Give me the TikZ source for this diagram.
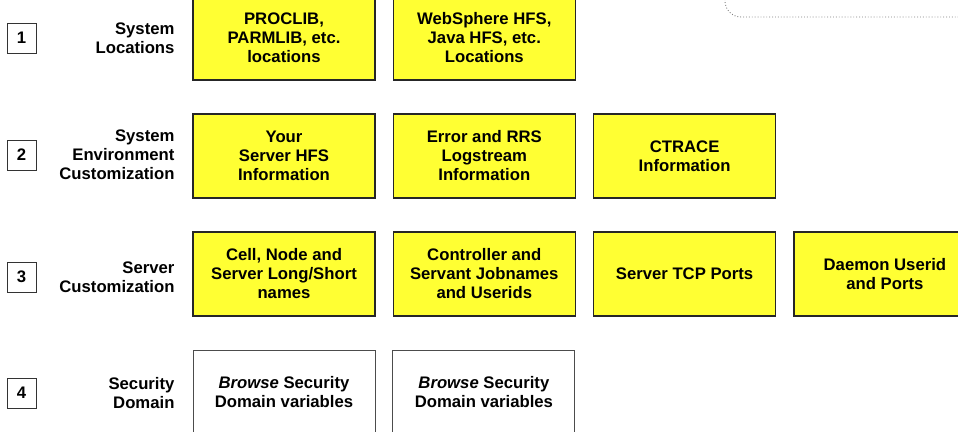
\documentclass[tikz,border=0pt]{standalone}
\usepackage{fontspec}
\setmainfont{Liberation Sans}
\usetikzlibrary{positioning}
\definecolor{boxyellow}{RGB}{255,255,51}
\newcommand{\boxfont}{\bfseries\fontsize{16.7}{19}\selectfont}
\tikzset{node distance=17pt, % Gap between two boxes of a row
yellowbox/.style={ % Sets the properties for each filled box
draw=black!85,
line width=1.3pt,
fill=boxyellow,
minimum width=182pt,
minimum height=84pt,
inner sep=0pt,
align=center,
font=\boxfont},
plainbox/.style={ % Unfilled security boxes
yellowbox,
fill=white,
draw=black!70,
line width=0.9pt},
numbox/.style={ % Step numbers on the left
draw=black!80,
line width=0.9pt,
minimum width=29pt,
minimum height=30pt,
inner sep=0pt,
font=\boxfont},
rowlabel/.style={align=right, anchor=east, font=\boxfont}}

\begin{document}
\begin{tikzpicture}[x=1pt,y=-1pt]
\useasboundingbox (0,0) rectangle (958,431);
\clip (0,0) rectangle (958,431);
\draw[black!50, dotted, line width=0.9pt, rounded corners=16pt] (725,-40) rectangle (1000,17);
% row 1
\node[numbox] (n1) at (21.5,38) {1};
\node[rowlabel] (l1) at (178,38) {System\\Locations};
\node[yellowbox] (proclib) at (284,38) {PROCLIB,\\PARMLIB, etc.\\locations};
\node[yellowbox, right=of proclib] (websphere) {WebSphere HFS,\\Java HFS, etc.\\Locations};
% row 2
\node[numbox] (n2) at (21.5,155) {2};
\node[rowlabel] (l2) at (178,155) {System\\Environment\\Customization};
\node[yellowbox] (hfs) at (284,156) {Your\\Server HFS\\Information};
\node[yellowbox, right=of hfs] (logstream) {Error and RRS\\Logstream\\Information};
\node[yellowbox, right=of logstream] (ctrace) {CTRACE\\Information};
% row 3
\node[numbox] (n3) at (21.5,277) {3};
\node[rowlabel] (l3) at (178,277) {Server\\Customization};
\node[yellowbox] (names) at (284,274) {Cell, Node and\\Server Long/Short\\names};
\node[yellowbox, right=of names] (jobnames) {Controller and\\Servant Jobnames\\and Userids};
\node[yellowbox, right=of jobnames] (tcp) {Server TCP Ports};
\node[yellowbox, right=of tcp] (daemon) {Daemon Userid\\and Ports};
% row 4
\node[numbox] (n4) at (21.5,393) {4};
\node[rowlabel] (l4) at (178,393) {Security\\Domain};
\node[plainbox] (browse1) at (284,392) {\textit{Browse} Security\\Domain variables};
\node[plainbox, right=of browse1] (browse2) {\textit{Browse} Security\\Domain variables};
\end{tikzpicture}
\end{document}
